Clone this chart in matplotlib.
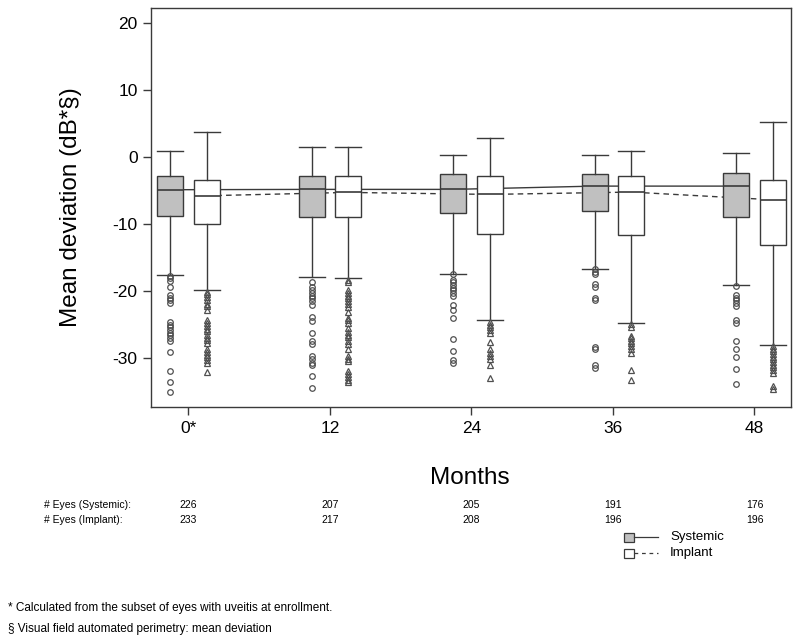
import matplotlib
matplotlib.use("Agg")
import matplotlib.pyplot as plt
from matplotlib.patches import Rectangle
from matplotlib.lines import Line2D

plt.rcParams['font.family'] = ['Liberation Sans', 'DejaVu Sans']

months = [0, 12, 24, 36, 48]
month_labels = ["0*", "12", "24", "36", "48"]

# Systemic group box statistics
sys_whishi = [0.8, 1.5, 0.3, 0.3, 0.6]
sys_q3 = [-2.9, -2.9, -2.5, -2.5, -2.4]
sys_med = [-4.9, -4.85, -4.85, -4.36, -4.36]
sys_q1 = [-8.8, -9.0, -8.4, -8.1, -9.0]
sys_whislo = [-17.6, -17.9, -17.4, -16.7, -19.1]
sys_fliers = [
    [-17.7, -18.1, -18.5, -19.4, -20.6, -21.0, -21.4, -21.8, -24.6, -25.0, -25.4,
     -25.8, -26.2, -26.6, -27.0, -27.4, -29.1, -32.0, -33.6, -35.1],
    [-18.7, -19.4, -19.9, -20.3, -20.7, -21.1, -21.5, -22.1, -23.9, -24.5, -26.3,
     -27.4, -27.9, -29.7, -30.2, -30.7, -31.1, -32.7, -34.5],
    [-17.4, -18.3, -18.7, -19.1, -19.5, -19.9, -20.3, -20.7, -22.1, -22.9, -24.0,
     -27.1, -29.0, -30.3, -30.7],
    [-16.7, -17.1, -17.5, -19.0, -19.4, -21.0, -21.4, -28.3, -28.7, -31.1, -31.5],
    [-19.3, -20.6, -21.0, -21.4, -21.8, -22.2, -24.4, -24.8, -27.4, -28.6, -29.8,
     -31.7, -33.9],
]

# Implant group box statistics
imp_whishi = [3.7, 1.4, 2.8, 0.8, 5.2]
imp_q3 = [-3.4, -2.9, -2.8, -2.9, -3.4]
imp_med = [-5.8, -5.3, -5.6, -5.25, -6.4]
imp_q1 = [-10.0, -9.0, -11.5, -11.6, -13.2]
imp_whislo = [-19.9, -18.0, -24.4, -24.7, -28.0]
imp_fliers = [
    [-20.2, -20.5, -20.9, -21.3, -21.9, -22.2, -22.9, -24.4, -24.8, -25.2, -25.6,
     -26.0, -26.6, -27.0, -27.3, -27.7, -28.7, -29.1, -29.5, -29.9, -30.3, -30.7,
     -32.1],
    [-18.3, -18.6, -19.9, -20.3, -20.7, -21.1, -21.5, -21.9, -22.4, -23.1, -24.0,
     -24.4, -24.8, -25.5, -26.1, -26.5, -26.9, -27.4, -27.9, -28.6, -29.7, -30.1,
     -30.4, -32.0, -32.4, -32.8, -33.2, -33.6],
    [-24.6, -25.0, -25.4, -25.8, -26.2, -27.6, -28.7, -29.3, -29.7, -30.1, -31.1,
     -33.0],
    [-24.9, -25.3, -26.7, -27.0, -27.4, -27.8, -28.2, -28.6, -29.2, -31.8, -33.2],
    [-28.2, -28.6, -29.0, -29.4, -29.8, -30.2, -30.6, -31.0, -31.4, -31.8, -32.3,
     -34.2, -34.6],
]

n_systemic = [226, 207, 205, 191, 176]
n_implant = [233, 217, 208, 196, 196]

series_names = ["Systemic", "Implant"]

offset = 1.55
bwidth = 2.2
edge = "#3a3a3a"

fig = plt.figure(figsize=(8, 6.44), dpi=100)
ax = fig.add_axes([0.1884, 0.368, 0.8004, 0.6196])


def make_stats(whishi, q3, med, q1, whislo, fliers):
    return [dict(whishi=a, q3=b, med=c, q1=d, whislo=e, fliers=f)
            for a, b, c, d, e, f in zip(whishi, q3, med, q1, whislo, fliers)]


sys_pos = [m - offset for m in months]
imp_pos = [m + offset for m in months]

# median connecting lines
ax.plot(sys_pos, sys_med, color=edge, lw=1.0, ls='-', zorder=1)
ax.plot(imp_pos, imp_med, color=edge, lw=1.0, ls=(0, (4, 3)), zorder=1)

common = dict(widths=bwidth, patch_artist=True, showcaps=True, zorder=3,
              whiskerprops=dict(color=edge, lw=1.0),
              capprops=dict(color=edge, lw=1.0),
              medianprops=dict(color=edge, lw=1.2))

ax.bxp(make_stats(sys_whishi, sys_q3, sys_med, sys_q1, sys_whislo, sys_fliers),
       positions=sys_pos,
       boxprops=dict(facecolor="#c0c0c0", edgecolor=edge, lw=1.0),
       flierprops=dict(marker='o', markersize=4, markerfacecolor='none',
                       markeredgecolor='#505050', markeredgewidth=0.9),
       capwidths=bwidth, **common)
ax.bxp(make_stats(imp_whishi, imp_q3, imp_med, imp_q1, imp_whislo, imp_fliers),
       positions=imp_pos,
       boxprops=dict(facecolor="white", edgecolor=edge, lw=1.0),
       flierprops=dict(marker='^', markersize=4.5, markerfacecolor='none',
                       markeredgecolor='#505050', markeredgewidth=0.9),
       capwidths=bwidth, **common)

ax.set_xlim(-3.19, 51.1)
ax.set_ylim(-37.3, 22.2)
ax.set_xticks(months)
ax.set_xticklabels(month_labels, fontsize=12.5)
ax.set_yticks([-30, -20, -10, 0, 10, 20])
ax.set_yticklabels(["-30", "-20", "-10", "0", "10", "20"], fontsize=12.5)
ax.tick_params(axis='both', direction='out', length=6, width=1.0, color=edge)
ax.tick_params(axis='x', pad=4)
for s in ax.spines.values():
    s.set_color(edge)
    s.set_linewidth(1.0)

ax.set_ylabel("Mean deviation (dB*§)", fontsize=17.5, labelpad=22)

# x label "Months"
fig.text(0.5875, 1 - 478 / 644, "Months", fontsize=17.5, ha='center', va='center')

# number of eyes table
fs_small = 7.5
y1 = 1 - 505 / 644
y2 = 1 - 520 / 644
fig.text(44 / 800, y1, "# Eyes (Systemic):", fontsize=fs_small, va='center')
fig.text(44 / 800, y2, "# Eyes (Implant):", fontsize=fs_small, va='center')
for m, ns, ni in zip(months, n_systemic, n_implant):
    xf = ax.transData.transform((m, 0))[0]
    xfig = fig.transFigure.inverted().transform((xf, 0))[0]
    fig.text(xfig, y1, str(ns), fontsize=fs_small, va='center', ha='center')
    fig.text(xfig, y2, str(ni), fontsize=fs_small, va='center', ha='center')

# legend (custom drawn)
leg_y = [1 - 537 / 644, 1 - 553 / 644]
fills = ["#c0c0c0", "white"]
styles = ['-', (0, (3, 3))]
for yy, fc, ls, name in zip(leg_y, fills, styles, series_names):
    fig.patches.append(Rectangle((624 / 800, yy - 4.5 / 644), 10 / 800, 9 / 644,
                                 transform=fig.transFigure, facecolor=fc,
                                 edgecolor=edge, lw=0.9))
    fig.lines.append(Line2D([634 / 800, 658 / 800], [yy, yy], transform=fig.transFigure,
                            color=edge, lw=0.9, ls=ls))
    fig.text(670 / 800, yy, name, fontsize=9.5, va='center')

# footnotes
fig.text(8 / 800, 1 - 608 / 644, "* Calculated from the subset of eyes with uveitis at enrollment.",
         fontsize=8.5, va='center')
fig.text(8 / 800, 1 - 629 / 644, "§ Visual field automated perimetry: mean deviation",
         fontsize=8.5, va='center')

fig.savefig("out.png", dpi=100)
